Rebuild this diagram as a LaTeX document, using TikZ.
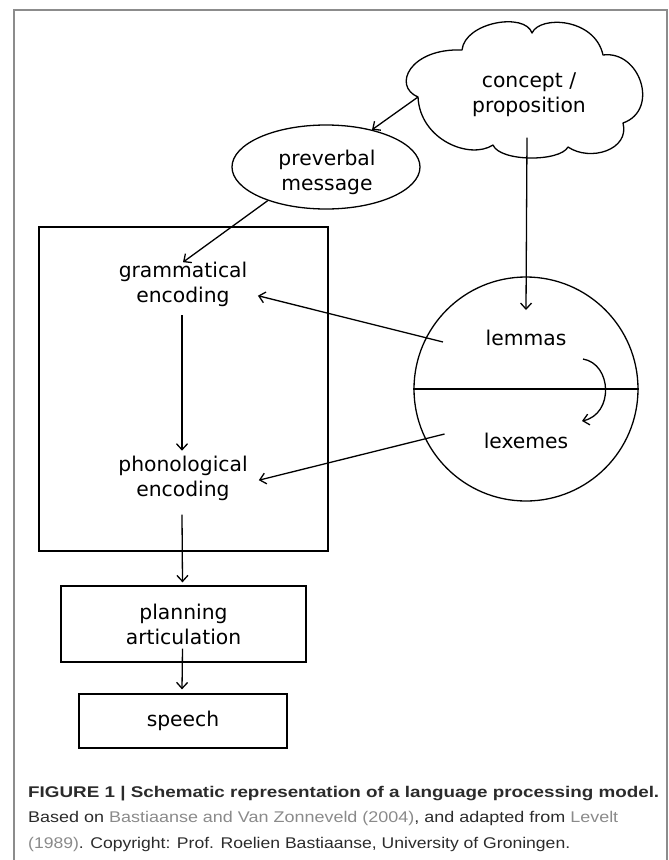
\documentclass[tikz,border=0pt]{standalone}
\usepackage{graphicx}
\usepackage{fontspec}
\setmainfont{Liberation Sans}
\newfontfamily\dv{DejaVu Sans}
\usetikzlibrary{arrows.meta,shapes.geometric,calc}
\definecolor{framegray}{HTML}{8C8C8C}
\definecolor{capdark}{HTML}{2B2B2B}
\definecolor{capgray}{HTML}{8A8A8A}
\begin{document}
\begin{tikzpicture}[x=1pt,y=-1pt,
  lw/.style={line width=1.3pt},
  arr/.style={lw,-{Straight Barb[length=6pt,width=11pt]}},
  dtext/.style={font=\dv\fontsize{20.3}{25}\selectfont, inner sep=0pt, align=center},
  boxnode/.style={draw,lw,rectangle,inner sep=0pt,dtext},
  captext/.style={anchor=base west, inner sep=0pt, font=\fontsize{15.5}{18}\selectfont}
]
\useasboundingbox (0,0) rectangle (669,860);
\draw[framegray, line width=1.2pt] (14,862) -- (14,10) -- (667,10) -- (667,862);

% cloud (drawn directly)
\coordinate (cA) at (418,97);
\coordinate (cB) at (462,50);
\coordinate (cC) at (532,33);
\coordinate (cD) at (603,55);
\coordinate (cE) at (623,123);
\coordinate (cF) at (568,147);
\coordinate (cG) at (493,145);
\draw[lw, line join=round]
  (cA) .. controls (392,86) and (410,48) .. (cB)
       .. controls (465,22) and (525,12) .. (cC)
       .. controls (540,15) and (595,18) .. (cD)
       .. controls (640,50) and (660,110) .. (cE)
       .. controls (630,150) and (590,162) .. (cF)
       .. controls (560,162) and (500,162) .. (cG)
       .. controls (470,160) and (420,140) .. (cA) -- cycle;
\node[dtext] (cloudtxt) at (529,94.5) {concept /\\proposition};

% preverbal message
\node[draw,lw,ellipse,minimum width=188pt,minimum height=84pt,inner sep=0pt] (pre) at (326,167) {};
\node[dtext] (pretxt) at (327,172.6) {preverbal\\message};

% encoding box
\node[draw,lw,rectangle,minimum width=289pt,minimum height=324pt,inner sep=0pt] (enc) at (183.5,389) {};
\node[dtext] (gram) at (183,284.7) {grammatical\\encoding};
\node[dtext] (phon) at (183,478.2) {phonological\\encoding};

% lexicon circle
\node[draw,lw,circle,minimum size=224pt,inner sep=0pt] (circ) at (526,389) {};
\draw[lw] (circ.west) -- (circ.east);
\node[dtext,anchor=base] (lem) at (526,345.5) {lemmas};
\node[dtext,anchor=base] (lex) at (526,448.5) {lexemes};
\coordinate (cs) at (583,359);
\coordinate (ce) at (582,421);
\draw[arr] (cs) .. controls (612,364) and (614,414) .. (ce);

% lower boxes
\node[boxnode,minimum width=245pt,minimum height=76pt] (plan) at (183.5,624) {planning\\articulation};
\node[boxnode,minimum width=208pt,minimum height=54pt] (speech) at (183,721) {speech};

% connectors
\draw[arr] (cA) -- (pre.39);
\draw[arr] ($(cloudtxt.south)+(-2,21)$) -- ($(lem.base)+(0,-35.5)$);
\draw[arr] (pre.210) -- (gram.north);
\draw[arr] ($(gram.south)+(-1,8)$) -- ($(phon.north)+(-1,-5)$);
\draw[arr] ($(lem.base west)+(-42.5,-3.5)$) -- ($(gram.east)+(10.5,11)$);
\draw[arr] ($(lex.base west)+(-39,-14.5)$) -- ($(phon.east)+(11,2)$);
\draw[arr] ($(phon.south)+(-1,14)$) -- ($(plan.north)+(-1,-3)$);
\draw[arr] ($(plan.south)+(-1,-14)$) -- ($(speech.north)+(-1,-4)$);

% caption
\node[captext,text=capdark] (cap1) at (28,797)
  {\resizebox{631pt}{\height}{\bfseries FIGURE 1 | Schematic representation of a language processing model.}};
\node[captext,text=capdark] (cap2) at (28,822.7)
  {\resizebox{590pt}{\height}{Based on \textcolor{capgray}{Bastiaanse and Van Zonneveld (2004)}, and adapted from \textcolor{capgray}{Levelt}}};
\node[captext,text=capdark] (cap3) at (28,848.3)
  {\resizebox{542pt}{\height}{\textcolor{capgray}{(1989)}. Copyright: Prof. Roelien Bastiaanse, University of Groningen.}};
\end{tikzpicture}
\end{document}
